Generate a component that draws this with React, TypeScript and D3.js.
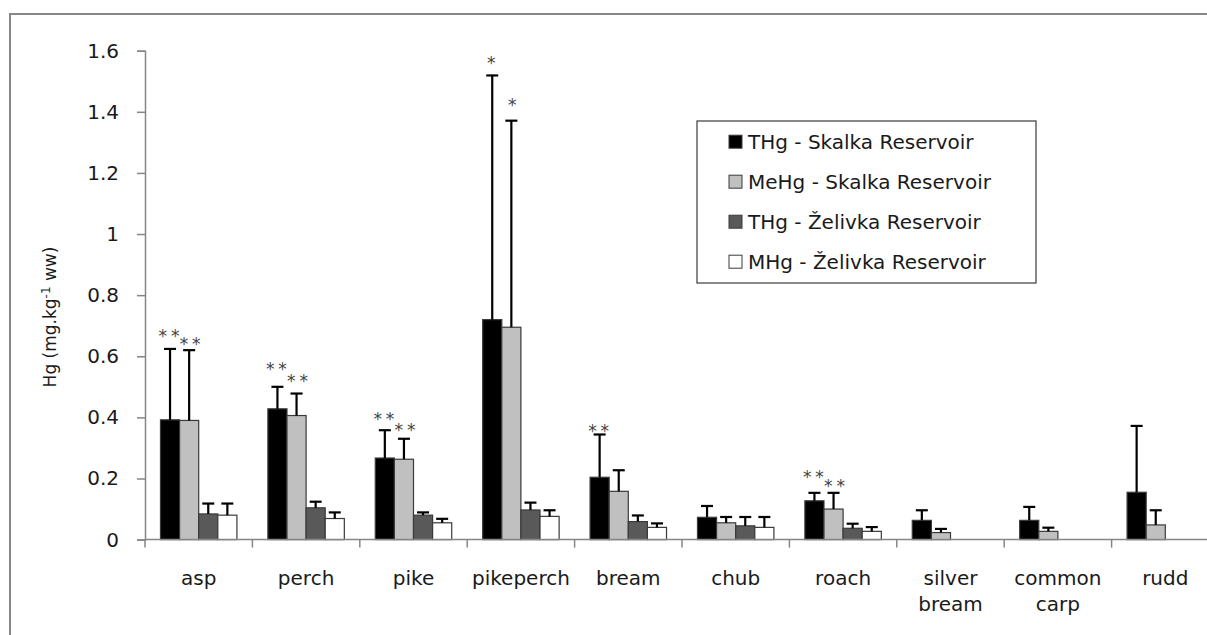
import React, { useEffect, useRef } from "react";
import * as d3 from "d3";

const categories = ["asp", "perch", "pike", "pikeperch", "bream", "chub", "roach", "silver bream", "common carp", "rudd"];
const seriesNames = ["THg - Skalka Reservoir", "MeHg - Skalka Reservoir", "THg - Želivka Reservoir", "MHg - Želivka Reservoir"];
const seriesColors = ["#000000", "#c0c0c0", "#595959", "#ffffff"];

const thgSkalka = [0.392, 0.428, 0.267, 0.72, 0.204, 0.073, 0.127, 0.063, 0.063, 0.155];
const thgSkalkaSd = [0.232, 0.072, 0.091, 0.799, 0.14, 0.037, 0.026, 0.033, 0.044, 0.217];
const mehgSkalka = [0.39, 0.406, 0.263, 0.695, 0.158, 0.055, 0.1, 0.023, 0.027, 0.048];
const mehgSkalkaSd = [0.23, 0.072, 0.067, 0.676, 0.069, 0.019, 0.053, 0.012, 0.012, 0.048];
const thgZelivka = [0.084, 0.104, 0.08, 0.097, 0.059, 0.045, 0.037, null, null, null];
const thgZelivkaSd = [0.034, 0.02, 0.009, 0.024, 0.02, 0.029, 0.015, null, null, null];
const mhgZelivka = [0.08, 0.069, 0.055, 0.076, 0.04, 0.04, 0.027, null, null, null];
const mhgZelivkaSd = [0.038, 0.02, 0.013, 0.02, 0.013, 0.034, 0.014, null, null, null];

const yTicks = [0, 0.2, 0.4, 0.6, 0.8, 1, 1.2, 1.4, 1.6];

// significance marks: category, series index, text, height (mg/kg) of the mark centre
const sigCats = ["asp", "asp", "perch", "perch", "pike", "pike", "pikeperch", "pikeperch", "bream", "roach", "roach"];
const sigSeries = [0, 1, 0, 1, 0, 1, 0, 1, 0, 0, 1];
const sigText = ["* *", "* *", "* *", "* *", "* *", "* *", "*", "*", "* *", "* *", "* *"];
const sigLevel = [0.681, 0.654, 0.573, 0.531, 0.409, 0.373, 1.574, 1.436, 0.37, 0.217, 0.188];

const FONT = "DejaVu Sans, Verdana, sans-serif";

const App = () => {
  const ref = useRef<SVGSVGElement>(null);

  useEffect(() => {
    const width = 1207;
    const height = 635;
    const svg = d3.select(ref.current).attr("width", width).attr("height", height);
    svg.selectAll("*").remove();

    const values = [thgSkalka, mehgSkalka, thgZelivka, mhgZelivka];
    const sds = [thgSkalkaSd, mehgSkalkaSd, thgZelivkaSd, mhgZelivkaSd];

    // outer frame
    svg.append("rect")
      .attr("x", 10).attr("y", 14)
      .attr("width", 1400).attr("height", 800)
      .attr("fill", "#fff")
      .attr("stroke", "#878787")
      .attr("stroke-width", 2);

    const x0 = d3.scaleBand().domain(categories).range([145, 1219]).padding(0);
    const x1 = d3.scaleBand().domain(seriesNames).range([0, x0.bandwidth()])
      .paddingInner(0).paddingOuter(0.81);
    const y = d3.scaleLinear().domain([0, 1.6]).range([539.6, 50.7]);

    // y axis
    const yAxis = svg.append("g")
      .attr("transform", "translate(145,0)")
      .call(d3.axisLeft(y).tickValues(yTicks).tickSize(8).tickPadding(18)
        .tickFormat(d => d3.format("~g")(d as number)));
    yAxis.select(".domain").attr("stroke", "#868686").attr("stroke-width", 1.5);
    yAxis.selectAll(".tick line").attr("stroke", "#868686").attr("stroke-width", 1.5);
    yAxis.selectAll(".tick text")
      .attr("font-family", FONT).attr("font-size", 20).attr("fill", "#1a1a1a");

    // bars
    const groups = svg.append("g").selectAll("g")
      .data(categories)
      .enter().append("g")
      .attr("transform", d => `translate(${x0(d)},0)`);

    seriesNames.forEach((s, si) => {
      groups.each(function (cat, ci) {
        const v = values[si][ci];
        if (v == null) return;
        const g = d3.select(this);
        g.append("rect")
          .attr("x", x1(s)!)
          .attr("y", y(v))
          .attr("width", x1.bandwidth())
          .attr("height", y(0) - y(v))
          .attr("fill", seriesColors[si])
          .attr("stroke", "#3a3a3a")
          .attr("stroke-width", 1.2);
        const sd = sds[si][ci];
        if (sd == null) return;
        const cx = x1(s)! + x1.bandwidth() / 2;
        g.append("line")
          .attr("x1", cx).attr("x2", cx)
          .attr("y1", y(v)).attr("y2", y(v + sd))
          .attr("stroke", "#000").attr("stroke-width", 2.2);
        g.append("line")
          .attr("x1", cx - 6).attr("x2", cx + 6)
          .attr("y1", y(v + sd)).attr("y2", y(v + sd))
          .attr("stroke", "#000").attr("stroke-width", 2.2);
      });
    });

    // x axis
    svg.append("line")
      .attr("x1", 145).attr("x2", 1219)
      .attr("y1", y(0)).attr("y2", y(0))
      .attr("stroke", "#868686").attr("stroke-width", 1.5);
    svg.append("g").selectAll("line")
      .data(categories)
      .enter().append("line")
      .attr("x1", d => x0(d)!).attr("x2", d => x0(d)!)
      .attr("y1", y(0)).attr("y2", y(0) + 8)
      .attr("stroke", "#868686").attr("stroke-width", 1.5);

    svg.append("g").selectAll("text")
      .data(categories)
      .enter().append("text")
      .attr("x", d => x0(d)! + x0.bandwidth() / 2)
      .attr("y", 585)
      .attr("text-anchor", "middle")
      .attr("font-family", FONT).attr("font-size", 20).attr("fill", "#1a1a1a")
      .each(function (d) {
        const words = d.split(" ");
        const t = d3.select(this);
        words.forEach((w, i) => {
          t.append("tspan")
            .attr("x", x0(d)! + x0.bandwidth() / 2)
            .attr("dy", i === 0 ? 0 : 26)
            .text(w);
        });
      });

    // significance marks
    svg.append("g").selectAll("text")
      .data(sigCats)
      .enter().append("text")
      .attr("x", (d, i) => x0(d)! + x1(seriesNames[sigSeries[i]])! + x1.bandwidth() / 2 + (sigSeries[i] === 0 ? -1 : 1))
      .attr("y", (_, i) => y(sigLevel[i]) + 10)
      .attr("text-anchor", "middle")
      .attr("font-family", FONT).attr("font-size", 17).attr("word-spacing", -1.5)
      .attr("fill", "#444")
      .text((_, i) => sigText[i]);

    // y label
    const yl = svg.append("text")
      .attr("transform", "translate(56,317) rotate(-90)")
      .attr("text-anchor", "middle")
      .attr("font-family", FONT).attr("font-size", 17).attr("fill", "#1a1a1a");
    yl.append("tspan").text("Hg (mg.kg");
    yl.append("tspan").attr("font-size", 12).attr("dy", -6).text("-1");
    yl.append("tspan").attr("dy", 6).text(" ww)");

    // legend
    const lg = svg.append("g");
    lg.append("rect")
      .attr("x", 697).attr("y", 121)
      .attr("width", 339).attr("height", 162)
      .attr("fill", "#fff").attr("stroke", "#4a4a4a").attr("stroke-width", 1.3);
    const rows = lg.selectAll("g.row")
      .data(seriesNames)
      .enter().append("g")
      .attr("class", "row")
      .attr("transform", (_, i) => `translate(729,${141.7 + i * 40})`);
    rows.append("rect")
      .attr("x", 0).attr("y", -6.5)
      .attr("width", 13).attr("height", 13)
      .attr("fill", (_, i) => seriesColors[i])
      .attr("stroke", "#3a3a3a").attr("stroke-width", 1);
    rows.append("text")
      .attr("x", 19).attr("y", 0)
      .attr("dy", "0.36em")
      .attr("font-family", FONT).attr("font-size", 20).attr("fill", "#1a1a1a")
      .text(d => d);
  }, []);

  return <svg ref={ref} style={{ position: "absolute", left: 0, top: 0, background: "#fff" }}></svg>;
};

export default App;
